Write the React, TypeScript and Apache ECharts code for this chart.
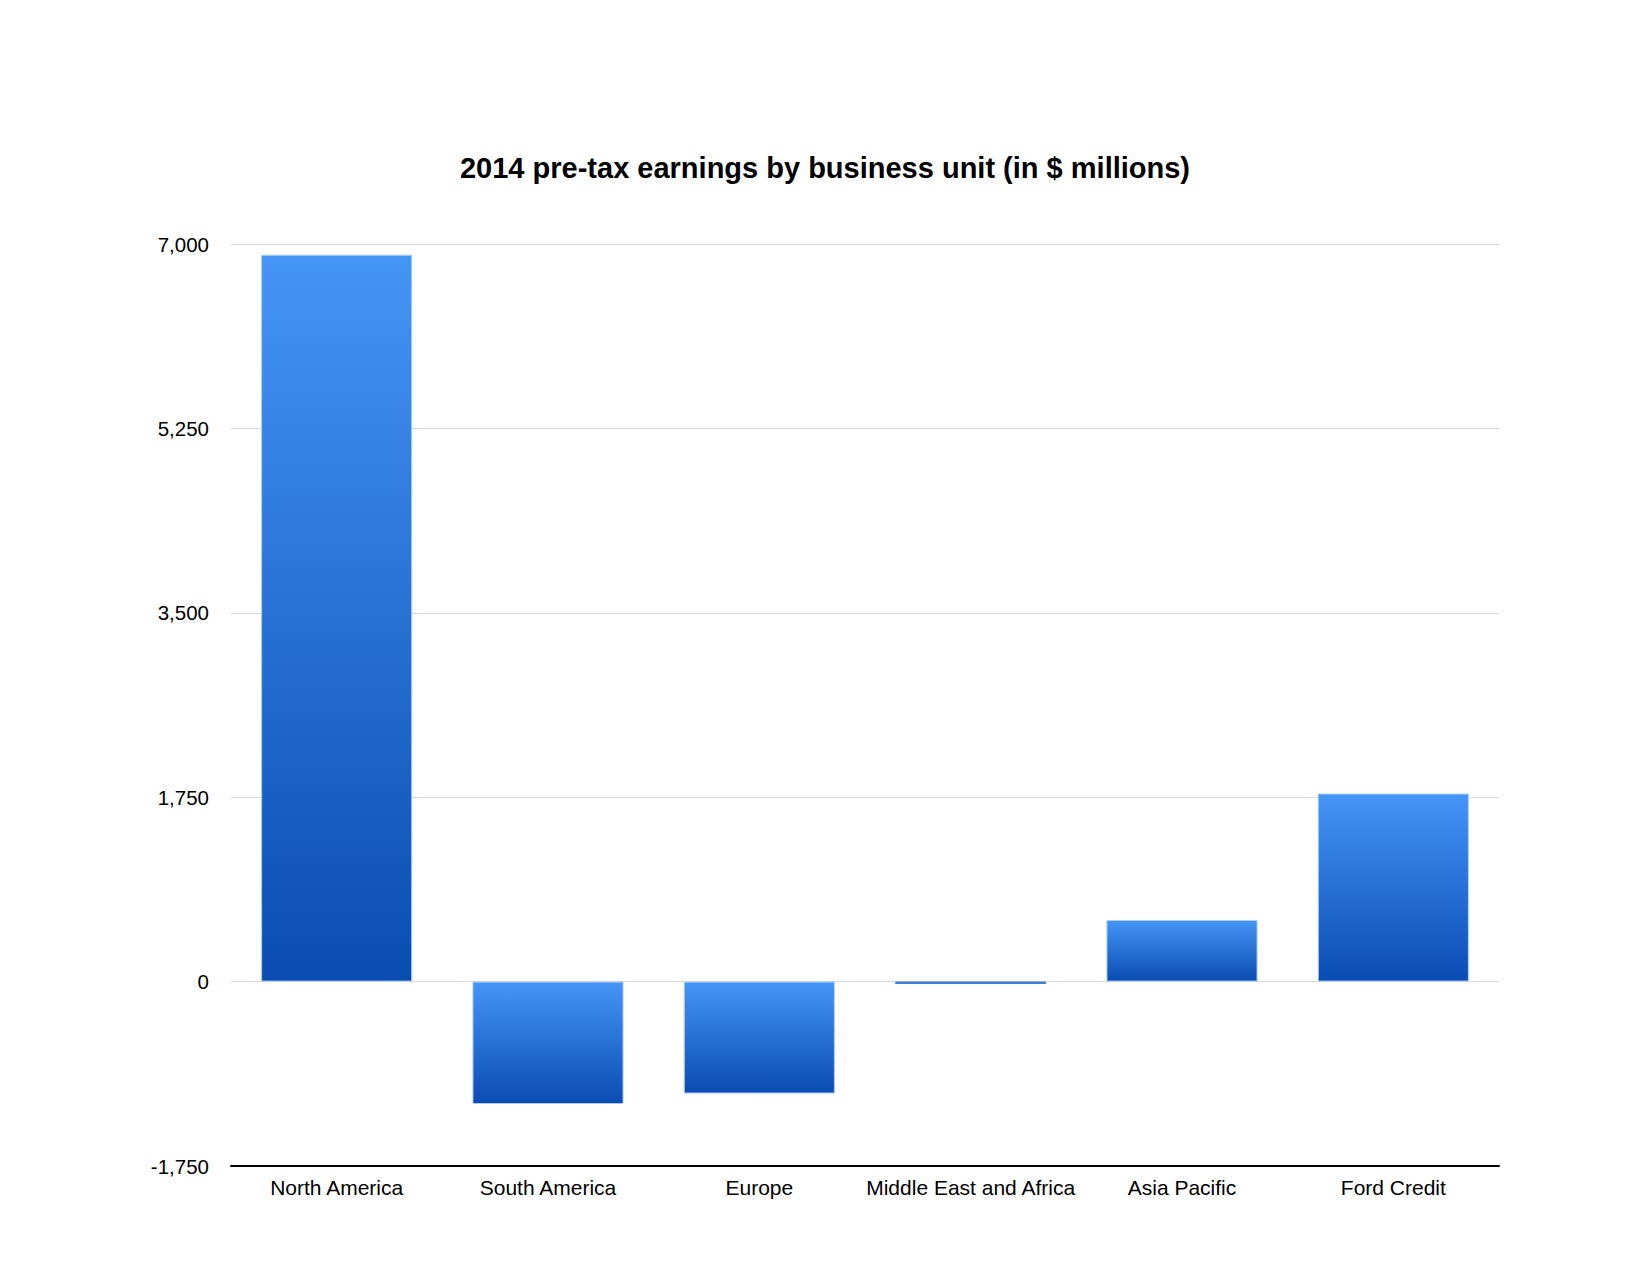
import React, { useEffect, useRef } from "react";
import * as echarts from "echarts";

const categories = [
  "North America",
  "South America",
  "Europe",
  "Middle East and Africa",
  "Asia Pacific",
  "Ford Credit",
];
const earnings = [6898, -1162, -1062, -22, 585, 1785];
const yMin = -1750;
const yMax = 7000;
const yInterval = 1750;
const title = "2014 pre-tax earnings by business unit (in $ millions)";

export default function App() {
  const ref = useRef<HTMLDivElement>(null);
  useEffect(() => {
    document.body.style.margin = "0";
    const chart = echarts.init(ref.current!, null, { renderer: "svg" });
    const barData = earnings.map((v) =>
      Math.abs(v) < 100
        ? { value: v, itemStyle: { color: "#3a7ad6", borderColor: "#3a7ad6" } }
        : v
    );
    chart.setOption({
      animation: false,
      backgroundColor: "#ffffff",
      title: {
        text: title,
        left: "center",
        top: 148,
        textStyle: {
          fontFamily: "Liberation Sans",
          fontWeight: "bold",
          fontSize: 29,
          color: "#000",
        },
      },
      grid: { left: 231, right: 151, top: 244, bottom: 109, containLabel: false },
      xAxis: {
        type: "category",
        data: categories,
        position: "bottom",
        axisLine: { onZero: false, lineStyle: { color: "#000", width: 2 } },
        axisTick: { show: false },
        axisLabel: {
          color: "#000",
          fontFamily: "Liberation Sans",
          fontSize: 21,
          margin: 11,
          interval: 0,
        },
      },
      yAxis: {
        type: "value",
        min: yMin,
        max: yMax,
        interval: yInterval,
        axisLine: { show: false },
        axisTick: { show: false },
        splitLine: { lineStyle: { color: "#d9d9d9", width: 1 } },
        axisLabel: {
          color: "#000",
          fontFamily: "Liberation Sans",
          fontSize: 20.5,
          margin: 22,
          formatter: (v: number) => v.toLocaleString("en-US"),
        },
      },
      series: [
        {
          type: "bar",
          data: barData,
          barWidth: "71.5%",
          itemStyle: {
            color: new echarts.graphic.LinearGradient(0, 0, 0, 1, [
              { offset: 0, color: "#4595f6" },
              { offset: 1, color: "#0a4cb2" },
            ]),
            borderColor: "#a9cdf7",
            borderWidth: 1,
          },
        },
      ],
    });
    return () => chart.dispose();
  }, []);
  return <div ref={ref} style={{ width: 1650, height: 1275 }} />;
}
